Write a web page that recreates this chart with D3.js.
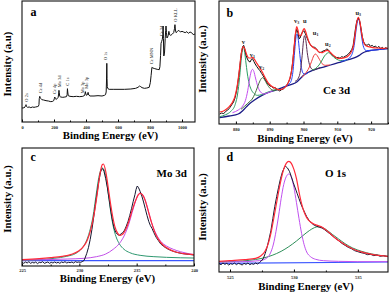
<!DOCTYPE html>
<html>
<head>
<meta charset="utf-8">
<script src="https://cdn.jsdelivr.net/npm/d3@7/dist/d3.min.js"></script>
<style>
  body { margin: 0; background: #fff; }
  svg text { font-family: "Liberation Serif", "Times New Roman", serif; }
</style>
</head>
<body>
<svg id="fig" width="391" height="296"></svg>
<script>
// ---------- panel a : survey ----------
const surveyTicks = [0, 200, 400, 600, 800, 1000];
const surveyMinor = [100, 300, 500, 700, 900];
const surveyData = [[0,41],[6,43],[12,42],[18,45],[22,49],[25,52],[28,47],[34,44],[45,45],[55,43],[65,45],[75,44],[85,45],[95,46],[102,47],[106,52],[108,70],[111,77],[114,74],[118,70],[124,67],[135,66],[150,64],[165,63],[180,61],[192,62],[198,64],[202,70],[205,75],[208,70],[213,68],[220,70],[226,74],[229,84],[231,95],[233,88],[236,77],[242,75],[255,74],[268,75],[278,76],[282,82],[284,100],[286,90],[289,79],[300,77],[320,76],[340,77],[360,76],[380,77],[392,80],[396,91],[400,82],[405,80],[410,84],[413,89],[417,81],[425,78],[450,78],[475,79],[500,78],[515,80],[522,82],[526,90],[528,120],[530,176],[531.5,130],[533,106],[537,100],[545,98],[570,98],[600,98],[640,98],[680,99],[710,101],[725,104],[735,108],[742,106],[750,103],[765,101],[780,102],[795,104],[802,118],[807,140],[812,164],[818,162],[830,160],[845,158],[858,157],[862,166],[866,200],[869,236],[873,242],[877,248],[880,262],[882,288],[884,250],[886,198],[888,200],[891,210],[895,250],[898,275],[900,288],[903,268],[906,252],[910,255],[914,260],[918,272],[922,262],[930,260],[940,264],[948,268],[953,280],[956,292],[959,276],[963,268],[972,272],[980,275],[990,270],[1000,272],[1010,270],[1020,268],[1030,271],[1040,266],[1050,270],[1060,268],[1070,262],[1081,264]];
const surveyPeaks = [["O 2s",25],["Ce 4d",117],["Ce 4p",202],["Mo 3d",231],["C 1s",285],["Mo 3p",379],["Mo 3p",400],["O 1s",523],["Ce MNN",810],["Ce 3d",869],["O KLL",956]];

// ---------- panel b : Ce 3d ----------
const ceTicks = [880, 890, 900, 910, 920];
const ceMinor = [885, 895, 905, 915, 925];
const ceData = [[875.2,30],[875.8,33],[876.4,31],[877.0,38],[877.6,42],[878.2,49],[878.8,58],[879.3,66],[879.8,80],[880.3,105],[880.8,140],[881.2,176],[881.6,212],[882.0,232],[882.3,236],[882.6,226],[883.0,206],[883.4,195],[883.8,188],[884.2,186],[884.6,194],[884.9,196],[885.3,188],[885.7,180],[886.2,172],[886.7,165],[887.1,160],[887.6,152],[888.1,144],[888.6,135],[889.1,126],[889.6,119],[890.1,114],[890.6,112],[891.1,108],[891.6,110],[892.1,104],[892.6,101],[893.0,99],[893.5,103],[894.0,105],[894.5,110],[895.0,116],[895.5,124],[896.0,136],[896.4,156],[896.8,185],[897.2,228],[897.6,268],[898.0,284],[898.3,276],[898.7,256],[899.0,258],[899.3,268],[899.7,276],[900.1,280],[900.5,272],[900.9,262],[901.3,252],[901.8,242],[902.3,234],[902.8,231],[903.3,230],[903.8,226],[904.3,218],[904.8,214],[905.3,216],[905.8,219],[906.4,221],[906.9,225],[907.3,223],[907.8,216],[908.3,209],[908.8,205],[909.3,201],[909.8,199],[910.3,200],[910.8,197],[911.3,202],[911.8,200],[912.3,203],[912.8,206],[913.3,210],[913.8,216],[914.3,224],[914.7,236],[915.0,258],[915.4,288],[915.8,310],[916.2,318],[916.6,310],[917.0,288],[917.4,262],[917.8,246],[918.3,238],[918.8,236],[919.3,240],[919.8,233],[920.3,236],[920.8,231],[921.3,234],[921.8,228],[922.3,233],[922.8,226],[923.3,230],[923.8,225],[924.3,229],[924.9,226]];
const ceEnvelope = [[875.2,36],[876.5,40],[877.8,50],[878.8,62],[879.7,82],[880.4,115],[881.0,160],[881.6,212],[882.1,232],[882.6,226],[883.2,208],[883.8,198],[884.4,198],[884.9,200],[885.5,194],[886.2,182],[887.0,170],[887.8,156],[888.6,140],[889.5,124],[890.5,114],[891.5,108],[892.5,103],[893.5,104],[894.5,110],[895.3,120],[896.0,138],[896.6,168],[897.1,215],[897.6,270],[898.0,292],[898.4,280],[898.8,264],[899.3,266],[899.8,280],[900.2,286],[900.6,278],[901.1,262],[901.7,244],[902.4,234],[903.1,228],[903.8,224],[904.6,216],[905.4,214],[906.2,218],[907.0,221],[907.8,216],[908.6,208],[909.5,201],[910.3,197],[911.2,197],[912.2,199],[913.2,204],[914.0,214],[914.7,232],[915.2,265],[915.7,302],[916.2,320],[916.7,306],[917.2,272],[917.7,248],[918.3,236],[919.2,232],[920.5,229],[922.0,228],[923.5,227],[924.9,228]];
const ceBackground = [[875.2,19],[878.0,24],[880.7,30],[882.0,40],[883.7,58],[885.5,72],[887.6,85],[890.0,96],[892.5,104],[894.5,112],[896.5,119],[898.0,126],[899.0,136],[900.4,149],[902.5,160],[905.3,169],[908.0,177],[910.3,184],[913.0,192],[915.2,199],[916.5,206],[917.5,213],[919.2,219],[922.0,223],[924.9,226]];
const ceV  = [[875.2,22],[877.0,28],[878.5,38],[879.7,56],[880.5,90],[881.1,140],[881.6,196],[882.0,226],[882.2,232],[882.5,222],[882.9,190],[883.4,150],[883.9,122],[884.5,104],[885.3,92],[886.3,86],[887.6,88],[889.0,94],[890.5,99],[892.5,105]];
const ceV1 = [[879.0,34],[880.7,42],[882.0,54],[882.8,70],[883.5,100],[884.1,138],[884.6,160],[884.9,164],[885.3,158],[885.8,138],[886.5,112],[887.3,96],[888.3,90],[889.5,94],[891.0,100]];
const ceV2 = [[881.5,44],[883.5,62],[885.0,78],[886.0,100],[886.8,122],[887.5,136],[887.9,139],[888.4,134],[889.2,120],[890.2,106],[891.3,101],[892.5,104]];
const ceV3 = [[894.0,110],[895.5,118],[896.3,128],[896.9,160],[897.4,220],[897.8,262],[898.05,270],[898.4,258],[898.8,220],[899.3,175],[899.9,152],[900.6,150],[901.5,155]];
const ceU  = [[897.5,128],[898.5,138],[899.1,160],[899.6,205],[900.0,250],[900.3,265],[900.7,250],[901.1,215],[901.6,185],[902.2,168],[903.0,162],[904.0,166],[905.0,169]];
const ceU1 = [[899.5,140],[900.6,152],[901.6,168],[902.4,188],[903.0,204],[903.5,210],[904.0,206],[904.7,194],[905.5,181],[906.5,176],[907.8,177]];
const ceU2 = [[902.5,162],[904.0,170],[905.2,186],[906.2,204],[907.0,212],[907.4,214],[908.0,210],[909.0,200],[910.3,192],[911.5,190],[913.0,193]];
const ceU3 = [[911.0,188],[913.0,194],[914.2,206],[915.0,236],[915.6,285],[916.1,312],[916.3,315],[916.7,300],[917.2,262],[917.8,230],[918.6,220],[919.8,221],[921.5,222],[923.5,225],[924.9,226]];
// label, subscript, energy, level
const ceLabels = [["v","",882.2,240],["v","1",884.9,202],["v","2",887.6,166],["v","3",898.0,303],["u","",900.4,304],["u","1",903.6,267],["u","2",907.2,234],["u","3",916.2,327]];

// ---------- panel c : Mo 3d ----------
const moTicks = [225, 230, 235, 240];
const moMinor = [227.5, 232.5, 237.5];
const moData = [[225.0,11],[225.15,8],[225.3,12],[225.45,9],[225.6,13],[225.75,8],[225.9,11],[226.05,9],[226.2,12],[226.35,7],[226.5,11],[226.65,10],[226.8,13],[226.95,8],[227.1,10],[227.25,12],[227.4,8],[227.55,11],[227.7,9],[227.85,12],[228.0,9],[228.15,11],[228.3,8],[228.45,12],[228.6,10],[228.75,13],[228.9,9],[229.05,11],[229.2,10],[229.35,12],[229.5,9],[229.65,13],[229.8,11],[229.95,12],[230.1,11],[230.25,13],[230.4,16],[230.5,24],[230.65,38],[230.8,56],[230.95,80],[231.1,110],[231.25,146],[231.4,184],[231.55,220],[231.7,254],[231.85,282],[231.95,290],[232.05,292],[232.15,284],[232.3,262],[232.45,234],[232.6,200],[232.75,164],[232.9,134],[233.05,112],[233.2,100],[233.35,94],[233.5,92],[233.65,97],[233.8,100],[233.95,108],[234.1,120],[234.25,134],[234.4,152],[234.55,172],[234.7,194],[234.85,214],[234.95,230],[235.05,240],[235.15,236],[235.3,224],[235.45,210],[235.6,192],[235.75,172],[235.9,152],[236.05,134],[236.2,121],[236.35,112],[236.5,100],[236.7,86],[236.9,76],[237.1,66],[237.35,59],[237.6,53],[237.9,48],[238.2,44],[238.6,40],[239.0,37],[239.5,35],[240,33]];
const moEnvelope = [[225,19],[226.5,22],[227.5,25],[228.5,29],[229.3,35],[229.9,44],[230.3,56],[230.7,78],[231.0,110],[231.3,158],[231.55,214],[231.8,276],[232.0,304],[232.1,306],[232.3,284],[232.5,240],[232.7,192],[232.9,150],[233.1,118],[233.35,98],[233.55,92],[233.8,96],[234.05,110],[234.3,132],[234.6,166],[234.9,196],[235.15,214],[235.3,218],[235.5,214],[235.75,196],[236.0,166],[236.3,130],[236.6,100],[236.9,80],[237.3,63],[237.8,51],[238.4,42],[239.1,37],[240,34]];
const mo52 = [[225,17],[226.5,19],[227.8,23],[228.9,29],[229.7,38],[230.2,52],[230.6,74],[230.9,104],[231.2,150],[231.45,210],[231.7,266],[231.9,290],[232.0,294],[232.15,288],[232.35,262],[232.55,210],[232.75,160],[232.95,120],[233.2,88],[233.5,66],[233.9,50],[234.4,40],[235.3,32],[236.5,28],[237.6,26],[240,24]];
const mo32 = [[225,18],[227,19],[229,21],[230.4,23],[231.5,28],[232.3,36],[232.95,50],[233.5,68],[233.9,90],[234.3,124],[234.6,160],[234.9,194],[235.1,212],[235.3,219],[235.5,215],[235.7,202],[236.0,168],[236.3,130],[236.7,96],[237.1,74],[237.6,60],[238.2,50],[238.8,43],[239.4,38],[240,34]];
const moBackground = [[225,16],[240,16]];

// ---------- panel d : O 1s ----------
const oTicks = [525, 530, 535];
const oMinor = [527.5, 532.5];
const oData = [[524.14,25],[524.3,22],[524.45,27],[524.6,23],[524.75,26],[524.9,21],[525.05,25],[525.2,23],[525.35,27],[525.5,22],[525.65,26],[525.8,24],[525.95,21],[526.1,26],[526.25,23],[526.4,27],[526.55,22],[526.7,25],[526.85,23],[527.0,27],[527.15,24],[527.3,28],[527.45,33],[527.6,40],[527.75,55],[527.9,74],[528.05,98],[528.2,124],[528.35,160],[528.5,196],[528.65,226],[528.8,254],[528.95,280],[529.1,300],[529.25,313],[529.35,317],[529.5,312],[529.65,302],[529.8,286],[529.95,268],[530.1,252],[530.25,236],[530.4,220],[530.55,204],[530.7,190],[530.85,178],[531.0,166],[531.2,154],[531.4,146],[531.6,140],[531.8,137],[532.0,134],[532.2,132],[532.4,127],[532.6,121],[532.8,115],[533.0,109],[533.25,101],[533.5,94],[533.75,86],[534.0,80],[534.25,74],[534.5,70],[534.75,64],[535.0,61],[535.25,58],[535.5,56],[535.75,52],[536.0,53],[536.25,49],[536.5,51],[536.75,47],[537.0,49],[537.36,46]];
const oEnvelope = [[524.14,32],[525.0,34],[526.17,37],[527.0,41],[527.4,48],[527.74,62],[528.0,86],[528.2,116],[528.4,156],[528.6,198],[528.8,240],[529.0,278],[529.2,308],[529.4,326],[529.6,332],[529.8,326],[530.0,308],[530.2,280],[530.4,240],[530.6,205],[530.8,180],[531.0,163],[531.3,150],[531.6,143],[531.9,139],[532.3,132],[532.7,120],[533.2,103],[533.7,89],[534.2,77],[534.8,66],[535.4,59],[536.1,53],[536.8,49],[537.36,47]];
const oLattice = [[524.14,30],[526.0,31],[527.3,34],[527.8,40],[528.13,54],[528.4,84],[528.6,122],[528.8,168],[529.0,220],[529.2,262],[529.4,286],[529.6,294],[529.8,284],[530.0,254],[530.2,208],[530.4,160],[530.6,116],[530.8,82],[531.0,60],[531.3,46],[531.7,38],[532.3,34],[533.5,32],[535.0,31],[537.36,31]];
const oSurface = [[524.14,30],[525.5,32],[526.5,35],[527.5,41],[528.3,50],[529.0,62],[529.6,76],[530.2,93],[530.7,109],[531.2,124],[531.6,133],[531.9,136],[532.2,134],[532.6,125],[533.0,113],[533.5,99],[534.0,85],[534.6,72],[535.3,62],[536.1,54],[537.36,47]];
const oBackground = [[524.14,26],[537.36,30]];

// ---------- drawing ----------
const svg = d3.select('#fig');

function panel(p) {
  const [l, t, r, b] = p.box;
  const x = d3.scaleLinear().domain(p.xDomain).range([l, r]);
  const y = d3.scaleLinear().domain(p.yDomain).range([b, t]);
  const g = svg.append('g');

  g.append('clipPath').attr('id', 'clip-' + p.id)
    .append('rect').attr('x', l).attr('y', t).attr('width', r - l).attr('height', b - t);
  const plot = g.append('g').attr('clip-path', 'url(#clip-' + p.id + ')');

  p.series.forEach(s => {
    plot.append('path').datum(s.data)
      .attr('fill', 'none')
      .attr('stroke', s.color)
      .attr('stroke-width', s.width || 1)
      .attr('stroke-linejoin', 'round')
      .attr('d', d3.line().x(d => x(d[0])).y(d => y(d[1]))
        .curve(s.smooth ? d3.curveMonotoneX : d3.curveLinear));
  });

  // minor + major ticks, pointing inward
  g.append('g').attr('transform', 'translate(0,' + b + ')')
    .call(d3.axisBottom(x).tickValues(p.minor).tickSize(-1.5).tickFormat(''))
    .call(a => a.select('.domain').remove());
  g.append('g').attr('transform', 'translate(0,' + b + ')')
    .call(d3.axisBottom(x).tickValues(p.ticks).tickSize(-2.5).tickPadding(p.tickPad).tickFormat(d3.format('d')))
    .call(a => a.select('.domain').remove())
    .call(a => a.selectAll('text').attr('font-size', 4.5).attr('font-weight', 'bold').attr('fill', '#222'));

  g.append('rect')
    .attr('x', l).attr('y', t).attr('width', r - l).attr('height', b - t)
    .attr('fill', 'none').attr('stroke', '#111').attr('stroke-width', 1.1);

  g.append('text')
    .attr('x', p.xTitle[0]).attr('y', p.xTitle[1])
    .attr('text-anchor', 'middle').attr('font-size', 10.8).attr('font-weight', 'bold')
    .text('Binding Energy (eV)');
  g.append('text')
    .attr('transform', 'translate(' + p.yTitle[0] + ',' + p.yTitle[1] + ') rotate(-90)')
    .attr('text-anchor', 'middle').attr('font-size', 10.8).attr('font-weight', 'bold')
    .text(p.yText);
  g.append('text')
    .attr('x', p.letter[0]).attr('y', p.letter[1])
    .attr('font-size', 12).attr('font-weight', 'bold')
    .text(p.id);
  if (p.title) {
    g.append('text')
      .attr('x', p.title[0]).attr('y', p.title[1])
      .attr('font-size', 11).attr('font-weight', 'bold')
      .text(p.title[2]);
  }
  return { x, y, g };
}

// a
const pa = panel({
  id: 'a', box: [22, 1, 195, 122], xDomain: [0, 1081.25], yDomain: [0, 363],
  ticks: surveyTicks, minor: surveyMinor, tickPad: 3.8,
  series: [{ data: surveyData, color: '#111', width: 1 }],
  xTitle: [110.5, 139], yTitle: [11, 64], yText: 'Intensity (a.u)', letter: [30.5, 16]
});
surveyPeaks.forEach(([lab, e]) => {
  const near = surveyData.filter(d => Math.abs(d[0] - e) <= 8);
  const top = d3.max(near, d => d[1]);
  pa.g.append('text')
    .attr('transform', 'translate(' + (pa.x(e) + 1.6) + ',' + (pa.y(top) - 3) + ') rotate(-90)')
    .attr('font-size', 4.5).attr('fill', '#222')
    .text(lab);
});

// b
const pb = panel({
  id: 'b', box: [219, 1, 388, 124], xDomain: [875, 925], yDomain: [0, 369],
  ticks: ceTicks, minor: ceMinor, tickPad: 3.8,
  series: [
    { data: ceBackground, color: '#1b1b86', width: 1.3, smooth: true },
    { data: ceV, color: '#2a9d63', width: 1, smooth: true },
    { data: ceV1, color: '#c54df0', width: 1, smooth: true },
    { data: ceV2, color: '#3f6d3a', width: 1, smooth: true },
    { data: ceV3, color: '#2440f5', width: 1, smooth: true },
    { data: ceU, color: '#5a2d52', width: 1, smooth: true },
    { data: ceU1, color: '#f03a3a', width: 1, smooth: true },
    { data: ceU2, color: '#2f9e5a', width: 1, smooth: true },
    { data: ceU3, color: '#2440f5', width: 1, smooth: true },
    { data: ceData, color: '#111', width: 1 },
    { data: ceEnvelope, color: '#ff2a2a', width: 1.2, smooth: true }
  ],
  xTitle: [305, 142], yTitle: [206, 59], yText: 'Intensity (a.u.)', letter: [226.5, 16.5],
  title: [323, 94, 'Ce 3d']
});
ceLabels.forEach(([lab, sub, e, lvl]) => {
  const t = pb.g.append('text')
    .attr('x', pb.x(e)).attr('y', pb.y(lvl))
    .attr('text-anchor', 'middle').attr('font-size', 6.5).attr('font-weight', 'bold').attr('fill', '#222')
    .text(lab);
  if (sub) t.append('tspan').attr('font-size', 4).attr('dy', 1.2).text(sub);
});

// c
panel({
  id: 'c', box: [22, 148, 194, 266], xDomain: [225, 240], yDomain: [0, 354],
  ticks: moTicks, minor: moMinor, tickPad: 2.4,
  series: [
    { data: moBackground, color: '#3a55ff', width: 1.1 },
    { data: mo52, color: '#2e9870', width: 1, smooth: true },
    { data: mo32, color: '#c24fe8', width: 1, smooth: true },
    { data: moData, color: '#161630', width: 1 },
    { data: moEnvelope, color: '#ff2a3a', width: 1.2, smooth: true }
  ],
  xTitle: [107.5, 282], yTitle: [11, 199], yText: 'Intensity (a.u.)', letter: [30.5, 160.5],
  title: [156.5, 177, 'Mo 3d']
});

// d
panel({
  id: 'd', box: [219, 148, 388, 272], xDomain: [524.14, 537.36], yDomain: [0, 372],
  ticks: oTicks, minor: oMinor, tickPad: 3.4,
  series: [
    { data: oBackground, color: '#3a55ff', width: 1.1 },
    { data: oSurface, color: '#2e8f5a', width: 1, smooth: true },
    { data: oLattice, color: '#c050f0', width: 1, smooth: true },
    { data: oData, color: '#161630', width: 1 },
    { data: oEnvelope, color: '#ff2a3a', width: 1.2, smooth: true }
  ],
  xTitle: [306, 290], yTitle: [206, 207], yText: 'Intensity (a.u.)', letter: [226.5, 161],
  title: [325, 177, 'O 1s']
});
</script>
</body>
</html>
